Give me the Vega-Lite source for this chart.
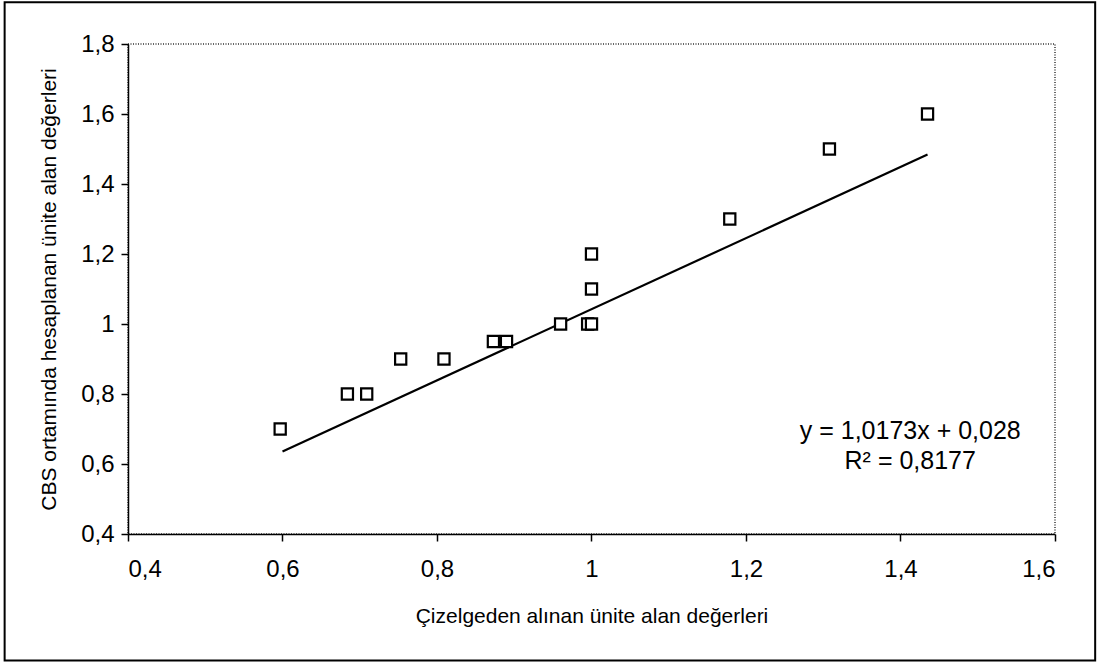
{
  "$schema": "https://vega.github.io/schema/vega-lite/v6.json",
  "width": 927,
  "height": 490,
  "autosize": {"type": "none"},
  "padding": {"left": 128, "top": 44, "right": 47, "bottom": 130},
  "background": "white",
  "config": {
    "font": "Liberation Sans",
    "view": {"stroke": "#333333", "strokeDash": [1, 1.5], "strokeWidth": 1.5},
    "axis": {
      "grid": false,
      "domainColor": "black",
      "domainWidth": 1.5,
      "tickColor": "black",
      "tickWidth": 1.5,
      "tickSize": 7,
      "labelColor": "black",
      "titleColor": "black",
      "labelFont": "Liberation Sans",
      "titleFont": "Liberation Sans",
      "labelFontSize": 24,
      "titleFontSize": 21,
      "titleFontWeight": "normal"
    }
  },
  "datasets": {
    "frame": [{"x1": 0.2403, "x2": 1.652, "y1": 0.0385, "y2": 1.919}],
    "points": [
      {"x": 0.597, "y": 0.70},
      {"x": 0.684, "y": 0.80},
      {"x": 0.709, "y": 0.80},
      {"x": 0.753, "y": 0.90},
      {"x": 0.809, "y": 0.90},
      {"x": 0.873, "y": 0.95},
      {"x": 0.890, "y": 0.95},
      {"x": 0.960, "y": 1.00},
      {"x": 0.995, "y": 1.00},
      {"x": 1.000, "y": 1.00},
      {"x": 1.000, "y": 1.10},
      {"x": 1.000, "y": 1.20},
      {"x": 1.179, "y": 1.30},
      {"x": 1.308, "y": 1.50},
      {"x": 1.435, "y": 1.60}
    ],
    "trend": [
      {"x": 0.600, "y": 0.636},
      {"x": 1.435, "y": 1.484}
    ],
    "eq": [
      {"x": 1.4126, "y": 0.695, "label": "y = 1,0173x + 0,028"},
      {"x": 1.4126, "y": 0.609, "label": "R² = 0,8177"}
    ]
  },
  "layer": [
    {
      "data": {"name": "frame"},
      "mark": {"type": "rect", "fill": "transparent", "stroke": "black", "strokeWidth": 2, "clip": false},
      "encoding": {
        "x": {"field": "x1", "type": "quantitative", "title": "Çizelgeden alınan ünite alan değerleri"},
        "x2": {"field": "x2"},
        "y": {"field": "y1", "type": "quantitative", "title": "CBS ortamında hesaplanan ünite alan değerleri"},
        "y2": {"field": "y2"}
      }
    },
    {
      "data": {"name": "trend"},
      "mark": {"type": "line", "color": "black", "strokeWidth": 2.2},
      "encoding": {
        "x": {"field": "x", "type": "quantitative", "title": "Çizelgeden alınan ünite alan değerleri"},
        "y": {"field": "y", "type": "quantitative", "title": "CBS ortamında hesaplanan ünite alan değerleri"}
      }
    },
    {
      "data": {"name": "points"},
      "mark": {"type": "point", "shape": "square", "filled": false, "fill": "white", "fillOpacity": 1, "stroke": "black", "strokeWidth": 2.2, "size": 125, "opacity": 1},
      "encoding": {
        "x": {
          "field": "x",
          "type": "quantitative",
          "title": "Çizelgeden alınan ünite alan değerleri",
          "scale": {"domain": [0.4, 1.6], "nice": false, "zero": false},
          "axis": {
            "values": [0.4, 0.6, 0.8, 1.0, 1.2, 1.4, 1.6],
            "labelExpr": "replace(format(datum.value, '~g'), '.', ',')",
            "labelPadding": 16,
            "titlePadding": 24
          }
        },
        "y": {
          "field": "y",
          "type": "quantitative",
          "title": "CBS ortamında hesaplanan ünite alan değerleri",
          "scale": {"domain": [0.4, 1.8], "nice": false, "zero": false},
          "axis": {
            "values": [0.4, 0.6, 0.8, 1.0, 1.2, 1.4, 1.6, 1.8],
            "labelExpr": "replace(format(datum.value, '~g'), '.', ',')",
            "labelPadding": 7,
            "titlePadding": 21
          }
        }
      }
    },
    {
      "data": {"name": "eq"},
      "mark": {"type": "text", "fontSize": 25, "font": "Liberation Sans", "color": "black", "align": "center", "baseline": "middle"},
      "encoding": {
        "x": {"field": "x", "type": "quantitative"},
        "y": {"field": "y", "type": "quantitative"},
        "text": {"field": "label"}
      }
    }
  ]
}
